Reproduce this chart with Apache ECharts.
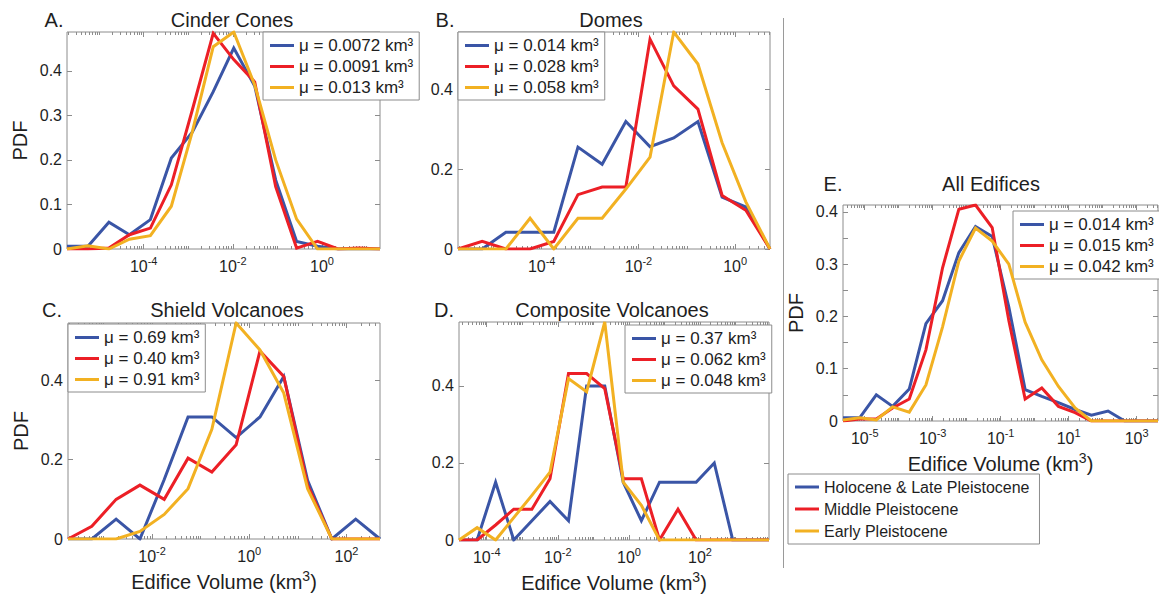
<!DOCTYPE html>
<html><head><meta charset="utf-8">
<script src="https://cdn.jsdelivr.net/npm/echarts@6/dist/echarts.min.js"></script>
<style>html,body{margin:0;padding:0;background:#fff}#c{width:1159px;height:597px}</style>
</head><body><div id="c"></div>
<script>
const FONT = "'Liberation Sans', Arial, sans-serif";
const TXT = '#1e1e1e';
const AX = '#8c8c8c';
const colors = ['#3a55a6', '#ec1f26', '#f2b122'];
const periods = ['Holocene & Late Pleistocene', 'Middle Pleistocene', 'Early Pleistocene'];

// ---- Panel A: Cinder Cones (x = log10 edifice volume, km^3)
const titleA = 'Cinder Cones';
const logVolA = [-5.72,-5.25,-4.78,-4.32,-3.85,-3.38,-2.91,-2.44,-1.98,-1.51,-1.04,-0.57,-0.10,0.36,0.83,1.30];
const holoA  = [0.006,0.006,0.060,0.032,0.066,0.204,0.262,0.353,0.451,0.366,0.155,0.017,0.006,0,0,0];
const midA   = [0,0,0.002,0.032,0.047,0.144,0.312,0.484,0.425,0.375,0.140,0.002,0.017,0,0.002,0];
const earlyA = [0,0.007,0,0.022,0.030,0.096,0.263,0.454,0.487,0.368,0.200,0.067,0,0,0,0];
const legendA = ['μ = 0.0072 km³','μ = 0.0091 km³','μ = 0.013 km³'];
const xTicksA = [-4,-2,0];
const yTicksA = [0,0.1,0.2,0.3,0.4];

// ---- Panel B: Domes
const titleB = 'Domes';
const logVolB = [-5.73,-5.23,-4.74,-4.24,-3.75,-3.25,-2.75,-2.26,-1.76,-1.27,-0.77,-0.27,0.22,0.72];
const holoB  = [0,0,0.042,0.042,0.042,0.255,0.212,0.319,0.256,0.278,0.319,0.130,0.105,0];
const midB   = [0,0.019,0,0,0.019,0.136,0.155,0.155,0.525,0.408,0.350,0.134,0.097,0];
const earlyB = [0,0,0,0.077,0,0.077,0.077,0.150,0.230,0.543,0.463,0.266,0.118,0];
const legendB = ['μ = 0.014 km³','μ = 0.028 km³','μ = 0.058 km³'];
const xTicksB = [-4,-2,0];
const yTicksB = [0,0.2,0.4];

// ---- Panel C: Shield Volcanoes
const titleC = 'Shield Volcanoes';
const logVolC = [-3.73,-3.24,-2.74,-2.25,-1.75,-1.26,-0.77,-0.27,0.22,0.71,1.20,1.70,2.19,2.69];
const holoC  = [0,0,0.050,0,0.150,0.308,0.308,0.256,0.308,0.410,0.148,0,0.050,0];
const midC   = [0,0.032,0.100,0.136,0.100,0.204,0.169,0.238,0.474,0.410,0.136,0,0,0];
const earlyC = [0,0,0,0.019,0.062,0.127,0.277,0.545,0.477,0.368,0.127,0,0,0];
const legendC = ['μ = 0.69 km³','μ = 0.40 km³','μ = 0.91 km³'];
const xTicksC = [-2,0,2];
const yTicksC = [0,0.2,0.4];

// ---- Panel D: Composite Volcanoes
const titleD = 'Composite Volcanoes';
const logVolD = [-4.78,-4.27,-3.75,-3.24,-2.73,-2.22,-1.70,-1.19,-0.68,-0.16,0.35,0.86,1.38,1.89,2.40,2.92,3.43,3.94];
const holoD  = [0,0,0.150,0,0.050,0.100,0.050,0.400,0.400,0.150,0.050,0.150,0.150,0.150,0.200,0,0,0];
const midD   = [0,0,0.039,0.080,0.080,0.159,0.432,0.432,0.393,0.159,0.159,0,0.080,0,0,0,0,0];
const earlyD = [0,0.032,0,0.058,0.116,0.176,0.419,0.385,0.566,0.150,0.090,0,0,0,0,0,0,0];
const legendD = ['μ = 0.37 km³','μ = 0.062 km³','μ = 0.048 km³'];
const xTicksD = [-4,-2,0,2];
const yTicksD = [0,0.2,0.4];

// ---- Panel E: All Edifices
const titleE = 'All Edifices';
const logVolE = [-5.64,-5.15,-4.66,-4.18,-3.69,-3.20,-2.71,-2.23,-1.74,-1.25,-0.76,-0.28,0.21,0.70,1.19,1.67,2.16,2.65,3.14,3.63];
const holoE  = [0.006,0.006,0.050,0.028,0.061,0.186,0.230,0.322,0.372,0.353,0.218,0.060,0.047,0.035,0.022,0.011,0.019,0,0,0];
const midE   = [0,0.004,0.004,0.025,0.042,0.136,0.293,0.405,0.413,0.370,0.192,0.042,0.063,0.028,0.016,0,0,0,0,0];
const earlyE = [0.002,0.006,0.002,0.027,0.017,0.069,0.180,0.306,0.369,0.344,0.300,0.189,0.117,0.066,0.025,0,0,0,0,0];
const legendE = ['μ = 0.014 km³','μ = 0.015 km³','μ = 0.042 km³'];
const xTicksE = [-5,-3,-1,1,3];
const yTicksE = [0,0.1,0.2,0.3,0.4];
const yMinorE = [0.05,0.15,0.25,0.35];

// ---- layout (positions only)
const panels = [
  {letter:'A.', title:titleA, x:logVolA, ys:[holoA,midA,earlyA], legend:legendA, xt:xTicksA, yt:yTicksA, ym:[],
   grid:{left:67,top:32,width:313,height:217}, xmin:-5.72, xmax:1.30, ymax:0.487, leg:[263,32], let:[54,20], tit:[232,20], yName:true, xName:false},
  {letter:'B.', title:titleB, x:logVolB, ys:[holoB,midB,earlyB], legend:legendB, xt:xTicksB, yt:yTicksB, ym:[],
   grid:{left:458,top:32,width:312,height:217}, xmin:-5.73, xmax:0.72, ymax:0.543, leg:[458,32], let:[445,20], tit:[611,20], yName:false, xName:false},
  {letter:'C.', title:titleC, x:logVolC, ys:[holoC,midC,earlyC], legend:legendC, xt:xTicksC, yt:yTicksC, ym:[],
   grid:{left:68,top:323,width:312,height:216}, xmin:-3.73, xmax:2.69, ymax:0.545, leg:[68,324], let:[52,310], tit:[227,310], yName:true, xName:true},
  {letter:'D.', title:titleD, x:logVolD, ys:[holoD,midD,earlyD], legend:legendD, xt:xTicksD, yt:yTicksD, ym:[],
   grid:{left:459,top:322,width:310,height:219}, xmin:-4.78, xmax:3.94, ymax:0.566, leg:[625,325], let:[444,310], tit:[612,310], yName:false, xName:true},
  {letter:'E.', title:titleE, x:logVolE, ys:[holoE,midE,earlyE], legend:legendE, xt:xTicksE, yt:yTicksE, ym:yMinorE,
   grid:{left:843,top:205,width:315,height:216}, xmin:-5.64, xmax:3.63, ymax:0.413, leg:[1013,211], let:[833,184], tit:[991,184], yName:true, xName:true}
];

function minorTicks(p) {
  const out = [];
  for (let n = Math.floor(p.xmin) - 1; n <= Math.ceil(p.xmax); n++) {
    for (let k = 1; k <= 9; k++) {
      const v = n + Math.log10(k);
      if (v > p.xmin + 0.01 && v < p.xmax - 0.01 && !p.xt.some(t => Math.abs(t - v) < 1e-6)) out.push(v);
    }
  }
  return out;
}

const grids = [], xAxes = [], yAxes = [], series = [], legends = [], graphics = [];
const supRich = {
  b: {fontSize: 16, lineHeight: 22, fontFamily: FONT, color: TXT},
  s: {fontSize: 11, lineHeight: 12, verticalAlign: 'top', fontFamily: FONT, color: TXT}
};
const nameStyle = {
  fontSize: 20, fontFamily: FONT, color: TXT, lineHeight: 26,
  rich: {s: {fontSize: 14, lineHeight: 14, verticalAlign: 'top', fontFamily: FONT, color: TXT}}
};

panels.forEach((p, k) => {
  grids.push(Object.assign({show: true, borderColor: AX, borderWidth: 1, backgroundColor: 'transparent'}, p.grid));
  const minors = minorTicks(p);
  const baseX = {gridIndex: k, type: 'value', min: p.xmin, max: p.xmax, splitLine: {show: false},
    axisLine: {show: false, onZero: false}};
  xAxes.push(Object.assign({}, baseX, {position: 'bottom',
    axisTick: {show: true, inside: true, length: 5, customValues: p.xt, lineStyle: {color: AX}},
    axisLabel: {show: true, customValues: p.xt, margin: 6, formatter: v => '{b|10}{s|' + Math.round(v) + '}', rich: supRich},
    name: p.xName ? 'Edifice Volume (km{s|3})' : '', nameLocation: 'middle', nameGap: 30, nameTextStyle: nameStyle}));
  xAxes.push(Object.assign({}, baseX, {position: 'bottom', axisLabel: {show: false},
    axisTick: {show: true, inside: true, length: 3, customValues: minors, lineStyle: {color: AX}}}));
  xAxes.push(Object.assign({}, baseX, {position: 'top', axisLabel: {show: false},
    axisTick: {show: true, inside: true, length: 5, customValues: p.xt, lineStyle: {color: AX}}}));
  xAxes.push(Object.assign({}, baseX, {position: 'top', axisLabel: {show: false},
    axisTick: {show: true, inside: true, length: 3, customValues: minors, lineStyle: {color: AX}}}));
  const yTickVals = p.yt.concat(p.ym);
  const baseY = {gridIndex: k, type: 'value', min: 0, max: p.ymax, splitLine: {show: false},
    axisLine: {show: false, onZero: false}};
  yAxes.push(Object.assign({}, baseY, {position: 'left',
    axisTick: {show: true, inside: true, length: 5, customValues: yTickVals, lineStyle: {color: AX}},
    axisLabel: {show: true, customValues: p.yt, margin: 5, fontSize: 16, fontFamily: FONT, color: TXT,
      formatter: v => (Math.abs(v) < 1e-9 ? '0' : v.toFixed(1))},
    name: p.yName ? 'PDF' : '', nameLocation: 'middle', nameGap: 37, nameTextStyle: {fontSize: 20, fontFamily: FONT, color: TXT}}));
  yAxes.push(Object.assign({}, baseY, {position: 'right', axisLabel: {show: false},
    axisTick: {show: true, inside: true, length: 5, customValues: yTickVals, lineStyle: {color: AX}}}));
  p.ys.forEach((vals, j) => {
    series.push({type: 'line', name: p.legend[j], xAxisIndex: 4 * k, yAxisIndex: 2 * k,
      data: p.x.map((xv, i) => [xv, vals[i]]), symbol: 'none', showSymbol: false, z: 2 + j,
      lineStyle: {width: 3, color: colors[j], join: 'miter'}, itemStyle: {color: colors[j]}, animation: false});
  });
  legends.push({data: p.legend, left: p.leg[0], top: p.leg[1], orient: 'vertical', icon: 'rect',
    itemWidth: 24, itemHeight: 3, itemGap: 4, padding: [5, 6, 4, 7], borderColor: AX, borderWidth: 1,
    backgroundColor: '#fff', selectedMode: false, textStyle: {fontSize: 17, fontFamily: FONT, color: TXT}});
  graphics.push({type: 'text', x: p.let[0], y: p.let[1], z: 10,
    style: {text: p.letter, font: '20px ' + FONT, fill: TXT, textAlign: 'center', textVerticalAlign: 'middle'}});
  graphics.push({type: 'text', x: p.tit[0], y: p.tit[1], z: 10,
    style: {text: p.title, font: '20px ' + FONT, fill: TXT, textAlign: 'center', textVerticalAlign: 'middle'}});
});

// dummy series for the shared period legend
periods.forEach((nm, j) => {
  series.push({type: 'line', name: nm, xAxisIndex: 0, yAxisIndex: 0, data: [], symbol: 'none',
    lineStyle: {width: 3, color: colors[j]}, itemStyle: {color: colors[j]}});
});
legends.push({data: periods, left: 788, top: 474, orient: 'vertical', icon: 'rect',
  itemWidth: 24, itemHeight: 3, itemGap: 6, padding: [5, 10, 5, 7], borderColor: AX, borderWidth: 1,
  backgroundColor: '#fff', selectedMode: false, textStyle: {fontSize: 16, fontFamily: FONT, color: TXT}});

graphics.push({type: 'line', shape: {x1: 783.5, y1: 18, x2: 783.5, y2: 568}, style: {stroke: '#9a9a9a', lineWidth: 1}});

const chart = echarts.init(document.getElementById('c'), null, {renderer: 'svg'});
chart.setOption({
  animation: false,
  backgroundColor: '#fff',
  grid: grids, xAxis: xAxes, yAxis: yAxes, series: series, legend: legends, graphic: graphics
});
</script></body></html>
